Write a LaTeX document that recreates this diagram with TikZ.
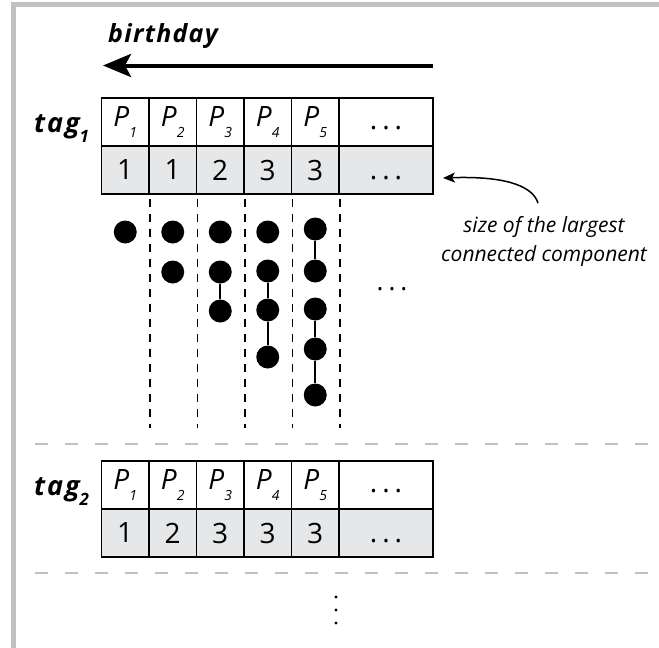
\documentclass[tikz,border=0pt]{standalone}
\usepackage{fontspec}
\setmainfont{Open Sans}
\usetikzlibrary{arrows.meta}
\definecolor{framegray}{RGB}{192,193,195}
\definecolor{cellgray}{RGB}{230,231,232}
\definecolor{rulegray}{RGB}{190,192,194}
% P with a low italic index
\newcommand{\psub}[1]{\textit{P}\raisebox{-11pt}{\fontsize{14}{14}\selectfont\itshape #1}}
% widely spaced ellipsis
\newcommand{\wdots}{.\kern5pt.\kern5pt.}
\begin{document}
\begin{tikzpicture}[x=1pt,y=-1pt,
  cell/.style={draw, line width=1.8pt, minimum width=47.5pt, minimum height=48pt,
    inner sep=0pt, font=\fontsize{28}{28}\selectfont},
  wide/.style={cell, minimum width=94pt},
  numcell/.style={cell, fill=cellgray},
  vert/.style={circle, fill=black, minimum size=23pt, inner sep=0pt},
  link/.style={line width=2pt},
  sep/.style={line width=1.6pt, dash pattern=on 8pt off 7pt},
  band/.style={rulegray, line width=2pt, dash pattern=on 13pt off 17pt},
  taglabel/.style={font=\fontsize{27}{27}\selectfont\bfseries\itshape\addfontfeatures{LetterSpace=7},
    anchor=base west, inner sep=0pt},
]
\fill[white] (0,0) rectangle (659,648);
\useasboundingbox (0,0) rectangle (659,648);
% frame
\fill[framegray] (11,2) rectangle (659,7);
\fill[framegray] (11,2) rectangle (16,648);

% birthday direction
\node[font=\fontsize{25}{25}\selectfont\bfseries\itshape\addfontfeatures{LetterSpace=5},
  anchor=base west, inner sep=0pt] (bday) at (108,42) {birthday};
\coordinate (ageR) at (433,65.5);
\coordinate (ageL) at (103,65.5);
\draw[line width=4pt, -{Stealth[length=28pt,width=23pt,inset=6pt]}] (ageR) -- (ageL);

% table for tag 1
\node[taglabel] (tag1) at (34,132) {tag\raisebox{-10pt}{\fontsize{17}{17}\selectfont 1}};
\foreach \i in {1,...,5} {
  \node[cell] (t1p\i) at ({101.5+47.5*(\i-0.5)},122) {\psub{\i}};
}
\node[wide] (t1pd) at (386,122) {\vphantom{x}\wdots};
\foreach \i/\v in {1/1,2/1,3/2,4/3,5/3} {
  \node[numcell] (t1n\i) at ({101.5+47.5*(\i-0.5)},170) {\v};
}
\node[wide, fill=cellgray] (t1nd) at (386,170) {\vphantom{1}\wdots};

% column separators
\foreach \i in {1,...,5} {
  \draw[sep] (t1n\i.south east) ++(0,4) -- ++(0,229);
}

% vertices per prefix
\node[vert] (d11) at (125.25,232) {};
\node[vert] (d21) at (172.75,232) {};
\node[vert] (d22) at (172.75,272) {};
\node[vert] (d31) at (220.25,232) {};
\node[vert] (d32) at (220.25,272) {};
\node[vert] (d33) at (220.25,311) {};
\node[vert] (d41) at (267.75,232) {};
\node[vert] (d42) at (267.75,271) {};
\node[vert] (d43) at (267.75,310) {};
\node[vert] (d44) at (267.75,357) {};
\node[vert] (d51) at (315.25,229) {};
\node[vert] (d52) at (315.25,271) {};
\node[vert] (d53) at (315.25,309) {};
\node[vert] (d54) at (315.25,349) {};
\node[vert] (d55) at (315.25,395) {};
\draw[link] (d32) -- (d33);
\draw[link] (d42) -- (d43);
\draw[link] (d43) -- (d44);
\draw[link] (d51) -- (d52);
\draw[link] (d53) -- (d54);
\draw[link] (d54) -- (d55);
\node[font=\fontsize{26}{26}\selectfont] (more) at (392,289) {\wdots};

% annotation
\node[font=\fontsize{21}{29}\selectfont\itshape, align=center] (note) at (544,241) {size of the largest\\connected component};
\coordinate (noteA) at (538,203);
\coordinate (noteB) at (443,178);
\draw[line width=1.5pt, -{Stealth[length=12pt,width=10pt,inset=3pt]}] (noteA) .. controls (532,184) and (500,176) .. (noteB);

% separating bands
\draw[band] (35,444) -- (659,444);
\draw[band] (35,573) -- (659,573);

% table for tag 2
\node[taglabel] (tag2) at (34,495) {tag\raisebox{-10pt}{\fontsize{17}{17}\selectfont 2}};
\foreach \i in {1,...,5} {
  \node[cell] (t2p\i) at ({101.5+47.5*(\i-0.5)},485) {\psub{\i}};
}
\node[wide] (t2pd) at (386,485) {\vphantom{x}\wdots};
\foreach \i/\v in {1/1,2/2,3/3,4/3,5/3} {
  \node[numcell] (t2n\i) at ({101.5+47.5*(\i-0.5)},533) {\v};
}
\node[wide, fill=cellgray] (t2nd) at (386,533) {\vphantom{1}\wdots};

% further tags
\foreach \y in {597,610,623} \fill (336,\y) circle (1.6pt);
\end{tikzpicture}
\end{document}
